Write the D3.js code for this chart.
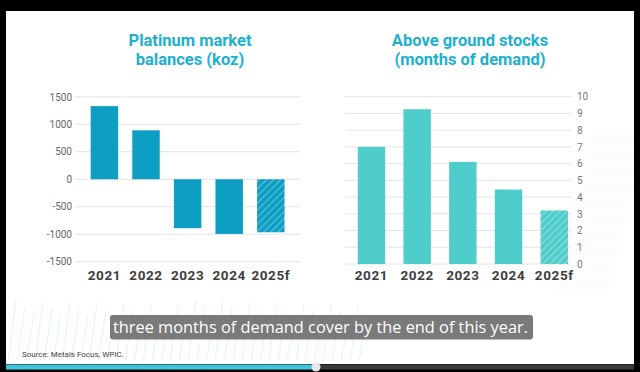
<!DOCTYPE html>
<html><head><meta charset="utf-8">
<script src="https://cdn.jsdelivr.net/npm/d3@7"></script>
<style>
html,body{margin:0;padding:0;background:#000;}
svg{display:block;}
</style></head>
<body>
<svg id="c" width="640" height="372"></svg>
<script>
const years = ["2021","2022","2023","2024","2025f"];
const balances = [1330, 890, -890, -995, -965];
const stocks = [7.0, 9.25, 6.1, 4.45, 3.2];
const forecast = [false,false,false,false,true];
const leftTicks = [1500,1000,500,0,-500,-1000,-1500];
const rightTicks = [0,1,2,3,4,5,6,7,8,9,10];
const leftTitle = ["Platinum market","balances (koz)"];
const rightTitle = ["Above ground stocks","(months of demand)"];
const caption = "three months of demand cover by the end of this year.";
const source = "Source: Metals Focus, WPIC.";

const svg = d3.select("#c");
const defs = svg.append("defs");
function hatch(id, color){
  const p = defs.append("pattern").attr("id",id).attr("patternUnits","userSpaceOnUse")
    .attr("width",5).attr("height",5).attr("patternTransform","rotate(45)");
  p.append("rect").attr("width",5).attr("height",5).attr("fill",color);
  p.append("line").attr("x1",0).attr("y1",0).attr("x2",0).attr("y2",5)
    .attr("stroke","#ffffff").attr("stroke-opacity",0.75).attr("stroke-width",1);
}
const cLeft = "#0d9fc3", cRight = "#4ecdcb";
hatch("hL", cLeft); hatch("hR", cRight);
defs.append("clipPath").attr("id","panel").append("rect")
  .attr("x",6).attr("y",11).attr("width",628).attr("height",353);

// background panel
svg.append("rect").attr("x",6).attr("y",11).attr("width",628).attr("height",353).attr("fill","#ffffff");

// faint decorative strokes
const deco = svg.append("g").attr("clip-path","url(#panel)")
  .attr("stroke","#dcecf2").attr("stroke-width",0.7);
for (let i=0;i<40;i++){
  const x = 8 + i*9;
  deco.append("line").attr("x1",x).attr("y1",362).attr("x2",x+8).attr("y2",300+((i*7)%20));
}
const deco2 = svg.append("g").attr("clip-path","url(#panel)")
  .attr("stroke","#f1f6f8").attr("stroke-width",0.7);
for (let i=0;i<14;i++){
  const x = 585 + i*4;
  deco2.append("line").attr("x1",x-30).attr("y1",290).attr("x2",x+10).attr("y2",130);
}

const fmt = d => String(d);

// LEFT CHART
const xL = d3.scaleBand().domain(years).range([83.6,291.6]).paddingInner(0.34).paddingOuter(0.17);
const yL = d3.scaleLinear().domain([-1500,1500]).range([261.7,96.8]);
const gL = svg.append("g");
gL.selectAll("line.grid").data(leftTicks).join("line")
  .attr("x1",75).attr("x2",300).attr("y1",d=>yL(d)).attr("y2",d=>yL(d))
  .attr("stroke","#e4e4e4").attr("stroke-width",1);
const axL = d3.axisLeft(yL).tickValues(leftTicks).tickFormat(fmt).tickSize(0).tickPadding(0);
gL.append("g").attr("transform","translate(72,0)").call(axL)
  .call(g=>g.select(".domain").remove())
  .selectAll("text").attr("font-family","Roboto, sans-serif")
  .attr("font-size",10).attr("fill","#666");
gL.selectAll("rect.bar").data(years).join("rect")
  .attr("x",d=>xL(d)).attr("width",xL.bandwidth())
  .attr("y",(d,i)=>yL(Math.max(0,balances[i])))
  .attr("height",(d,i)=>Math.abs(yL(balances[i])-yL(0)))
  .attr("fill",(d,i)=>forecast[i]?"url(#hL)":cLeft);
const axLX = d3.axisBottom(xL).tickSize(0).tickPadding(0);
gL.append("g").attr("transform","translate(0,270)").call(axLX)
  .call(g=>g.select(".domain").remove())
  .selectAll("text").attr("font-family","Roboto, sans-serif").attr("font-weight","bold")
  .attr("font-size",13.5).attr("fill","#3d3d3d").attr("letter-spacing",0.6);

// RIGHT CHART
const xR = d3.scaleBand().domain(years).range([348.6,577.1]).paddingInner(0.4).paddingOuter(0.2);
const yR = d3.scaleLinear().domain([0,10]).range([264,96.7]);
const gR = svg.append("g");
gR.selectAll("line.grid").data(rightTicks).join("line")
  .attr("x1",345).attr("x2",571).attr("y1",d=>yR(d)).attr("y2",d=>yR(d))
  .attr("stroke","#e4e4e4").attr("stroke-width",1);
const axR = d3.axisRight(yR).tickValues(rightTicks).tickFormat(fmt).tickSize(0).tickPadding(0);
gR.append("g").attr("transform","translate(577,0)").call(axR)
  .call(g=>g.select(".domain").remove())
  .selectAll("text").attr("font-family","Roboto, sans-serif")
  .attr("font-size",10).attr("fill","#777");
gR.selectAll("rect.bar").data(years).join("rect")
  .attr("x",d=>xR(d)).attr("width",xR.bandwidth())
  .attr("y",(d,i)=>yR(stocks[i]))
  .attr("height",(d,i)=>yR(0)-yR(stocks[i]))
  .attr("fill",(d,i)=>forecast[i]?"url(#hR)":cRight);
const axRX = d3.axisBottom(xR).tickSize(0).tickPadding(0);
gR.append("g").attr("transform","translate(0,270)").call(axRX)
  .call(g=>g.select(".domain").remove())
  .selectAll("text").attr("font-family","Roboto, sans-serif").attr("font-weight","bold")
  .attr("font-size",13.5).attr("fill","#3d3d3d").attr("letter-spacing",0.6);

// titles
function title(lines, cx){
  const t = svg.append("text").attr("text-anchor","middle")
    .attr("font-family","Roboto, sans-serif").attr("font-weight","bold")
    .attr("font-size",16.5).attr("fill","#1db0cf");
  lines.forEach((l,i)=>t.append("tspan").attr("x",cx).attr("y",46+i*19).text(l));
}
title(leftTitle,190);
title(rightTitle,470);

// caption
svg.append("rect").attr("x",110).attr("y",315).attr("width",423).attr("height",24.5)
  .attr("rx",3).attr("fill","#6f6f6f").attr("fill-opacity",0.92);
svg.append("text").attr("x",113).attr("y",333)
  .attr("font-family","'Open Sans', sans-serif").attr("font-size",16.5).attr("fill","#ffffff")
  .attr("textLength",415).attr("lengthAdjust","spacingAndGlyphs")
  .text(caption);

// source
svg.append("text").attr("x",22).attr("y",357).attr("font-family","Roboto, sans-serif")
  .attr("font-size",8).attr("fill","#444").text(source);

// progress bar
svg.append("rect").attr("x",0).attr("y",364).attr("width",640).attr("height",8).attr("fill","#000");
svg.append("rect").attr("x",6).attr("y",364.5).attr("width",628).attr("height",5).attr("fill","#3a3a3a");
svg.append("rect").attr("x",6).attr("y",364.5).attr("width",310).attr("height",5).attr("fill","#3fc3dc");
svg.append("circle").attr("cx",316).attr("cy",367).attr("r",4.5).attr("fill","#e8e8e8");
</script>
</body></html>
